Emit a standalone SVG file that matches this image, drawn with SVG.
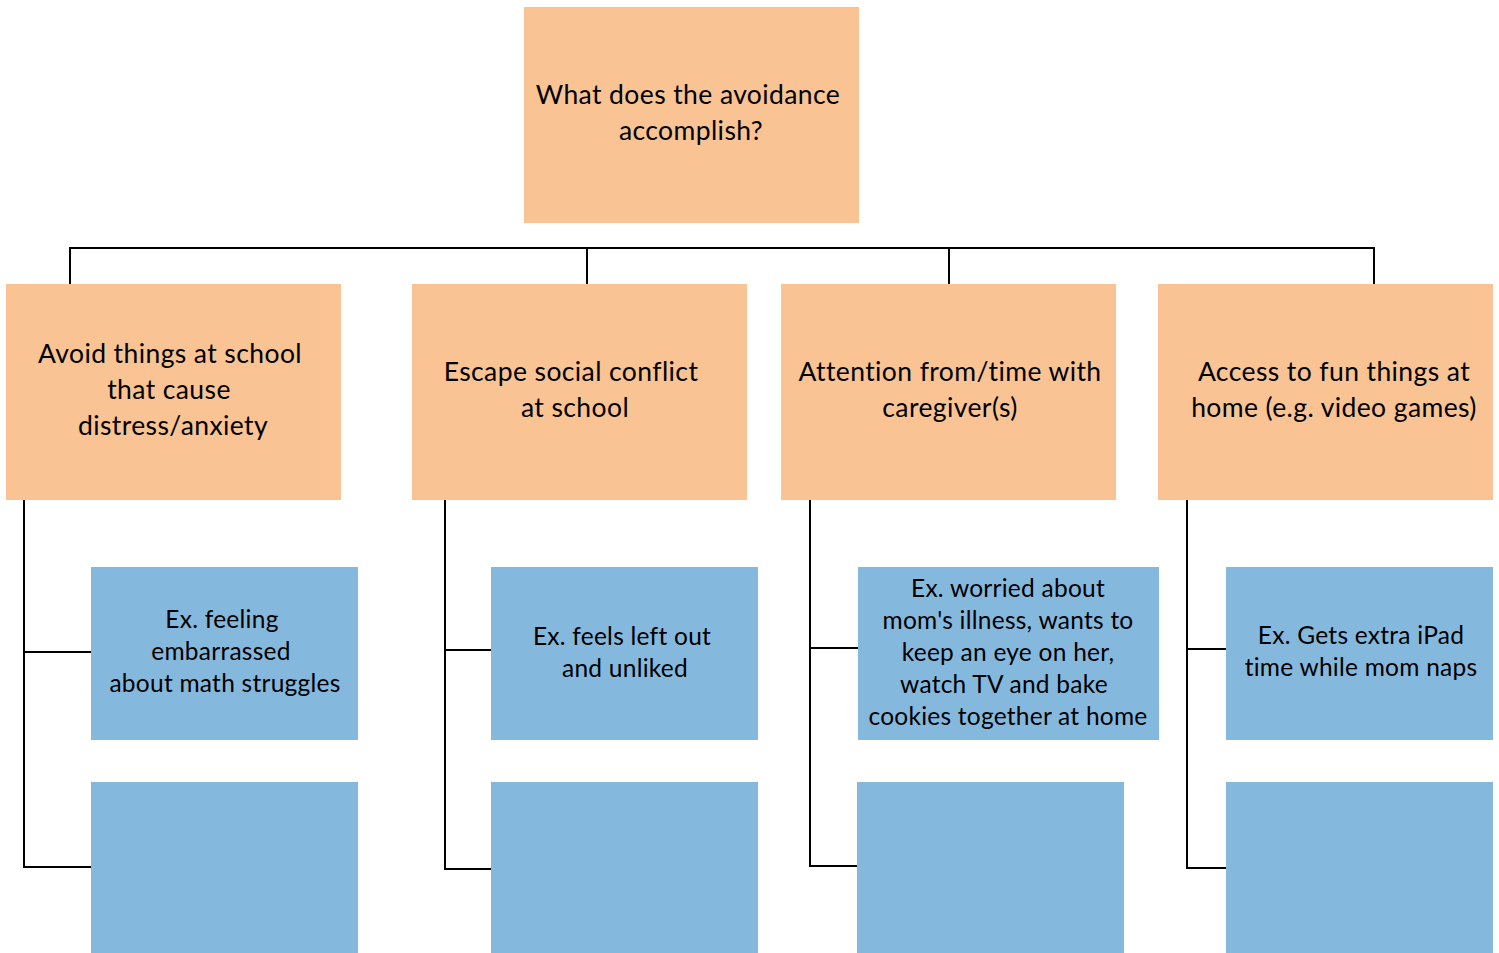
<svg xmlns="http://www.w3.org/2000/svg" width="1499" height="953" viewBox="0 0 1499 953">
<style>
.o{fill:#F9C393}
.b{fill:#85B8DD}
text{font-family:Lato,"Noto Sans",sans-serif;fill:#000;text-anchor:middle}
.t1{font-size:26.5px;letter-spacing:0.4px}
.t2{font-size:24.5px;letter-spacing:0.25px}
.c{stroke:#000;stroke-width:2;fill:none}
</style>
<rect width="1499" height="953" fill="#fff"/>
<g id="connectors">
<path class="c" d="M70,285 V248 H1374 V285 M587,248 V285 M949,248 V285"/>
<path class="c" d="M24,500 V867 H91 M24,652 H91"/>
<path class="c" d="M445,500 V869 H491 M445,650 H491"/>
<path class="c" d="M810,500 V866 H857 M810,648 H858"/>
<path class="c" d="M1187,500 V868 H1226 M1187,649 H1226"/>
</g>
<g id="root"><rect class="o" x="524" y="7" width="335" height="216"/>
<text class="t1" x="688" y="104">What does the avoidance</text><text class="t1" x="691" y="140">accomplish?</text></g>
<g id="n1"><rect class="o" x="6" y="284" width="335" height="216"/>
<text class="t1" x="170" y="363">Avoid things at school</text><text class="t1" x="169" y="399">that cause</text><text class="t1" x="173" y="435">distress/anxiety</text></g>
<g id="n2"><rect class="o" x="412" y="284" width="335" height="216"/>
<text class="t1" x="571" y="381">Escape social conflict</text><text class="t1" x="575" y="417">at school</text></g>
<g id="n3"><rect class="o" x="781" y="284" width="335" height="216"/>
<text class="t1" x="950" y="381">Attention from/time with</text><text class="t1" x="950" y="417">caregiver(s)</text></g>
<g id="n4"><rect class="o" x="1158" y="284" width="335" height="216"/>
<text class="t1" x="1334" y="381">Access to fun things at</text><text class="t1" x="1334" y="417">home (e.g. video games)</text></g>
<g id="e1a"><rect class="b" x="91" y="567" width="267" height="173"/>
<text class="t2" x="222" y="628">Ex. feeling</text><text class="t2" x="221" y="660">embarrassed</text><text class="t2" x="225" y="692">about math struggles</text></g>
<g id="e2a"><rect class="b" x="491" y="567" width="267" height="173"/>
<text class="t2" x="622" y="645">Ex. feels left out</text><text class="t2" x="625" y="677">and unliked</text></g>
<g id="e3a"><rect class="b" x="858" y="567" width="301" height="173"/>
<text class="t2" x="1008" y="597">Ex. worried about</text><text class="t2" x="1008" y="629">mom's illness, wants to</text><text class="t2" x="1008" y="661">keep an eye on her,</text><text class="t2" x="1004" y="693">watch TV and bake</text><text class="t2" x="1008" y="725">cookies together at home</text></g>
<g id="e4a"><rect class="b" x="1226" y="567" width="267" height="173"/>
<text class="t2" x="1361" y="644">Ex. Gets extra iPad</text><text class="t2" x="1361" y="676">time while mom naps</text></g>
<g id="e1b"><rect class="b" x="91" y="782" width="267" height="171"/></g>
<g id="e2b"><rect class="b" x="491" y="782" width="267" height="171"/></g>
<g id="e3b"><rect class="b" x="857" y="782" width="267" height="171"/></g>
<g id="e4b"><rect class="b" x="1226" y="782" width="267" height="171"/></g>
</svg>
